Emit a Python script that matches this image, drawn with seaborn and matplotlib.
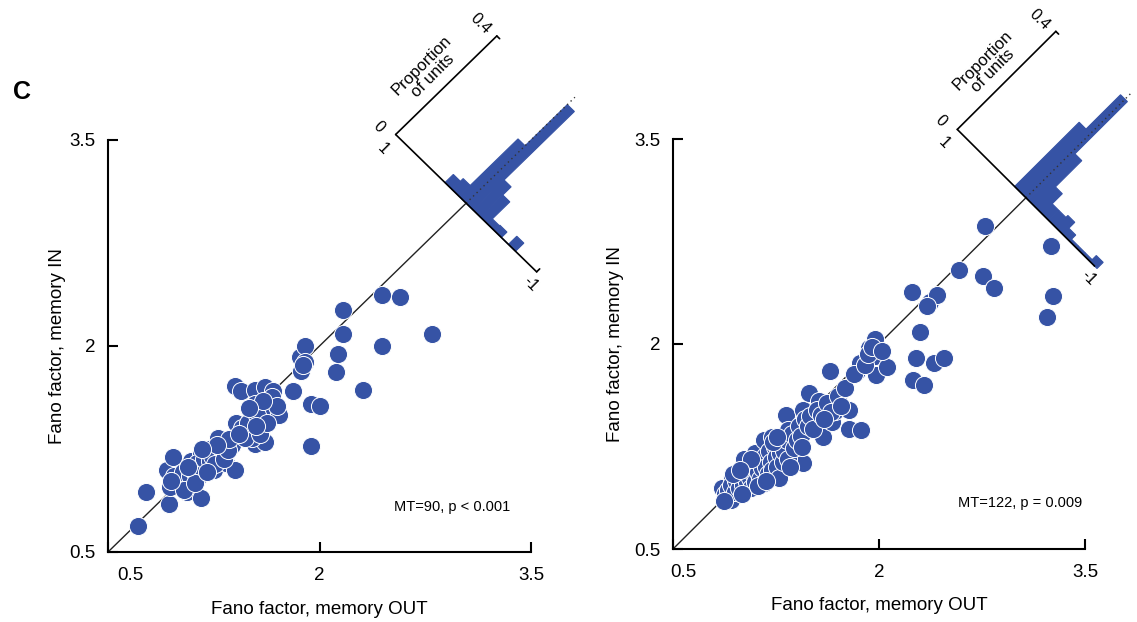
import numpy as np
import pandas as pd
import matplotlib
matplotlib.use("Agg")
import matplotlib.pyplot as plt
import seaborn as sns
from matplotlib.transforms import Affine2D, ScaledTranslation

sns.set_style("ticks")
plt.rcParams["font.family"] = ["Liberation Sans", "DejaVu Sans"]
for k in ["text.color", "axes.labelcolor", "xtick.color", "ytick.color", "axes.edgecolor"]:
    plt.rcParams[k] = "black"

BLUE = "#3653A5"

# ---------------- data ----------------
left_out = [0.71, 0.77, 0.93, 0.94, 1.06, 1.16, 1.05, 0.92, 1.01, 0.96, 1.09, 1.12, 1.16, 1.20, 1.25,
            1.21, 1.28, 1.29, 1.34, 1.39, 1.40, 1.38, 1.41, 1.48, 1.51, 1.54, 1.61, 1.59, 1.52, 1.40,
            1.44, 1.54, 1.61, 1.67, 1.54, 1.65, 1.61, 1.71, 1.81, 1.87, 1.86, 1.90, 1.90, 1.94, 2.00,
            1.94, 2.13, 2.12, 2.17, 2.17, 2.31, 2.44, 2.44, 2.57, 2.80,
            0.97, 1.00, 1.03, 1.08, 1.10, 1.13, 1.15, 1.18, 1.22, 1.24, 1.26, 1.30, 1.32, 1.35, 1.36,
            1.45, 1.47, 1.49, 1.56, 1.58, 1.63, 1.66, 1.70, 1.04, 0.95, 1.12, 1.20, 1.27, 1.43, 1.55,
            1.60, 1.50, 1.88, 1.07, 1.17]
left_in = [0.69, 0.94, 0.85, 0.97, 0.94, 0.89, 0.99, 1.10, 1.07, 1.19, 1.16, 1.04, 1.22, 1.12, 1.10,
           1.25, 1.33, 1.21, 1.15, 1.31, 1.10, 1.28, 1.44, 1.38, 1.46, 1.29, 1.30, 1.42, 1.33, 1.71,
           1.67, 1.68, 1.70, 1.67, 1.58, 1.59, 1.53, 1.50, 1.67, 1.82, 1.92, 2.00, 1.88, 1.58, 1.56,
           1.27, 1.94, 1.81, 2.09, 2.26, 1.68, 2.00, 2.37, 2.36, 2.09,
           1.05, 1.02, 1.08, 1.05, 1.10, 1.15, 1.06, 1.18, 1.16, 1.20, 1.14, 1.26, 1.18, 1.24, 1.32,
           1.40, 1.33, 1.44, 1.50, 1.36, 1.44, 1.63, 1.56, 0.95, 1.02, 1.00, 1.08, 1.28, 1.36, 1.42,
           1.60, 1.55, 1.86, 1.12, 1.25]

right_out = [0.86, 0.92, 1.00, 0.93, 1.02, 1.10, 1.15, 1.23, 1.23, 1.16, 1.22, 1.35, 1.36, 1.32, 1.34,
             1.45, 1.47, 1.45, 1.49, 1.56, 1.59, 1.66, 1.68, 1.78, 1.78, 1.87, 1.64, 1.84, 1.86, 1.93,
             1.97, 1.97, 1.98, 2.06, 2.24, 2.37, 2.42, 2.30, 2.27, 2.40, 2.47, 2.25, 2.33, 2.58, 2.77,
             2.76, 2.84, 3.25, 3.27, 3.22,
             0.88, 0.90, 0.92, 0.95, 0.96, 0.98, 1.00, 1.01, 1.03, 1.04, 1.05, 1.06, 1.07, 1.08, 1.09,
             1.10, 1.11, 1.12, 1.13, 1.14, 1.15, 1.16, 1.17, 1.18, 1.19, 1.20, 1.21, 1.22, 1.24, 1.25,
             1.26, 1.27, 1.28, 1.29, 1.30, 1.31, 1.33, 1.34, 1.37, 1.38, 1.40, 1.42, 1.43, 1.46, 1.48,
             1.50, 1.52, 1.55, 1.58, 1.62, 1.65, 1.70, 1.72, 1.75, 1.82, 1.90, 1.92, 1.95, 2.02, 2.35,
             0.87, 0.94, 1.00, 1.07, 1.12, 1.18, 1.23, 1.35, 1.44, 1.60, 0.99, 1.26]
right_in = [0.95, 0.86, 0.91, 1.02, 1.16, 1.20, 1.04, 1.04, 1.13, 1.30, 1.32, 1.26, 1.19, 1.48, 1.37,
            1.52, 1.37, 1.13, 1.64, 1.58, 1.32, 1.43, 1.51, 1.52, 1.38, 1.37, 1.80, 1.80, 1.86, 1.97,
            2.04, 1.91, 1.77, 1.83, 2.38, 2.31, 2.36, 2.09, 1.90, 1.86, 1.90, 1.74, 1.70, 2.54, 2.86,
            2.50, 2.41, 2.72, 2.35, 2.20,
            0.90, 0.93, 0.97, 0.92, 1.00, 0.95, 1.02, 0.97, 1.05, 0.99, 1.08, 1.02, 0.95, 1.10, 1.04,
            0.99, 1.12, 1.06, 1.01, 1.15, 1.09, 0.98, 1.18, 1.10, 1.05, 1.22, 1.14, 1.08, 1.25, 1.17,
            1.10, 1.02, 1.20, 1.28, 1.14, 1.22, 1.30, 1.16, 1.34, 1.24, 1.30, 1.40, 1.33, 1.45, 1.40,
            1.47, 1.38, 1.52, 1.48, 1.57, 1.50, 1.62, 1.55, 1.68, 1.78, 1.85, 1.93, 1.98, 1.95, 2.28,
            0.85, 1.05, 0.90, 1.16, 0.96, 1.00, 1.28, 1.10, 1.25, 1.45, 1.08, 1.32]

# histogram of (IN - OUT): left bin edges and proportion of units
left_bins = [-0.7, -0.6, -0.5, -0.4, -0.3, -0.2, -0.1, 0.0, 0.1, 0.2]
left_props = [0.033, 0.0, 0.022, 0.020, 0.089, 0.122, 0.400, 0.233, 0.044, 0.033]
right_bins = [-1.035, -0.935, -0.835, -0.735, -0.635, -0.535, -0.435, -0.335, -0.235, -0.135, -0.035, 0.065]
right_props = [0.025, 0.008, 0.008, 0.008, 0.025, 0.049, 0.041, 0.041, 0.082, 0.189, 0.402, 0.262]

tick_vals = [0.5, 2, 3.5]
tick_labels = ["0.5", "2", "3.5"]
xlabel = "Fano factor, memory OUT"
ylabel = "Fano factor, memory IN"
notes = ["MT=90, p < 0.001", "MT=122, p = 0.009"]

# ---------------- figure ----------------
W, H = 1137, 622
fig = plt.figure(figsize=(W / 100, H / 100), dpi=100)
axL = fig.add_axes([108 / W, 70 / H, 423 / W, 412 / H])
axR = fig.add_axes([673 / W, 73 / H, 412 / W, 410 / H])

K = 1.794  # data units (per axis) per unit of proportion


def panel(ax, xs, ys, bins, props, center, note, note_pos, xshift, ylab_x):
    df = pd.DataFrame({"out": xs, "in": ys})
    # diagonal
    ax.plot([0.5, center], [0.5, center], color="#222222", lw=1.0, zorder=2, clip_on=False)
    sns.scatterplot(data=df, x="out", y="in", ax=ax, s=170, color=BLUE,
                    edgecolor="white", linewidth=0.7, zorder=3, clip_on=False, legend=False)

    # rotated histogram frame: (diff, proportion) -> data coordinates
    T = Affine2D(np.array([[-0.5, K, center], [0.5, K, center], [0, 0, 1]])) + ax.transData
    ax.bar(bins, props, width=0.1, align="edge", color=BLUE, edgecolor=BLUE, linewidth=0.8,
           transform=T, clip_on=False, zorder=3)
    ax.plot([0, 0], [0, 0.43], transform=T, color="#333333", lw=1.0,
            ls=(0, (1, 2.5)), zorder=4, clip_on=False)
    ax.plot([1, -1], [0, 0], transform=T, color="black", lw=1.2, clip_on=False, zorder=4)
    ax.plot([1, 1], [0, 0.4], transform=T, color="black", lw=1.2, clip_on=False, zorder=4)
    ax.plot([1, 0.96], [0.4, 0.4], transform=T, color="black", lw=1.2, clip_on=False)
    ax.plot([-1, -1], [0, 0.012], transform=T, color="black", lw=1.2, clip_on=False)
    kw = dict(xycoords=T, textcoords="offset pixels", rotation=-45, ha="center",
              va="center", fontsize=11.5, annotation_clip=False)
    ax.annotate("0", xy=(1, 0), xytext=(-17, 8), **kw)
    ax.annotate("1", xy=(1, 0), xytext=(-13, -14), **kw)
    ax.annotate("0.4", xy=(1, 0.4), xytext=(-16, 12), **kw)
    ax.annotate("-1", xy=(-1, 0), xytext=(-6, -12), **kw)
    ax.annotate("Proportion\nof units", xy=(1, 0.2), xycoords=T, textcoords="offset pixels",
                xytext=(-19, 15), rotation=45, ha="center", va="center", fontsize=12,
                linespacing=1.0, multialignment="center", annotation_clip=False)

    ax.text(note_pos[0], note_pos[1], note, transform=ax.transAxes, ha="center",
            va="center", fontsize=10.5)

    ax.set_xlim(0.5, 3.5)
    ax.set_ylim(0.5, 3.5)
    ax.set_xticks(tick_vals)
    ax.set_xticklabels(tick_labels)
    ax.set_yticks(tick_vals)
    ax.set_yticklabels(tick_labels)
    sns.despine(ax=ax)
    for s in ["left", "bottom"]:
        ax.spines[s].set_linewidth(1.5)
    ax.tick_params(direction="in", length=7, width=1.5, labelsize=13.5)
    ax.tick_params(axis="x", pad=11)
    ax.tick_params(axis="y", pad=9)
    lab = ax.get_xticklabels()[0]
    lab.set_transform(lab.get_transform() + ScaledTranslation(xshift / 100, 0, fig.dpi_scale_trans))
    ax.set_xlabel(xlabel, fontsize=13.5)
    ax.set_ylabel(ylabel, fontsize=13.5)
    ax.xaxis.set_label_coords(0.5, -0.118)
    ax.yaxis.set_label_coords(ylab_x, 0.5)


panel(axL, left_out, left_in, left_bins, left_props, 3.04, notes[0], (0.813, 0.109), 22, -0.1)
panel(axR, right_out, right_in, right_bins, right_props, 3.07, notes[1], (0.842, 0.112), 10, -0.118)

fig.text(22 / W, 1 - 92 / H, "C", fontsize=18, fontweight="bold", ha="center", va="center")

fig.savefig("out.png", dpi=100)
